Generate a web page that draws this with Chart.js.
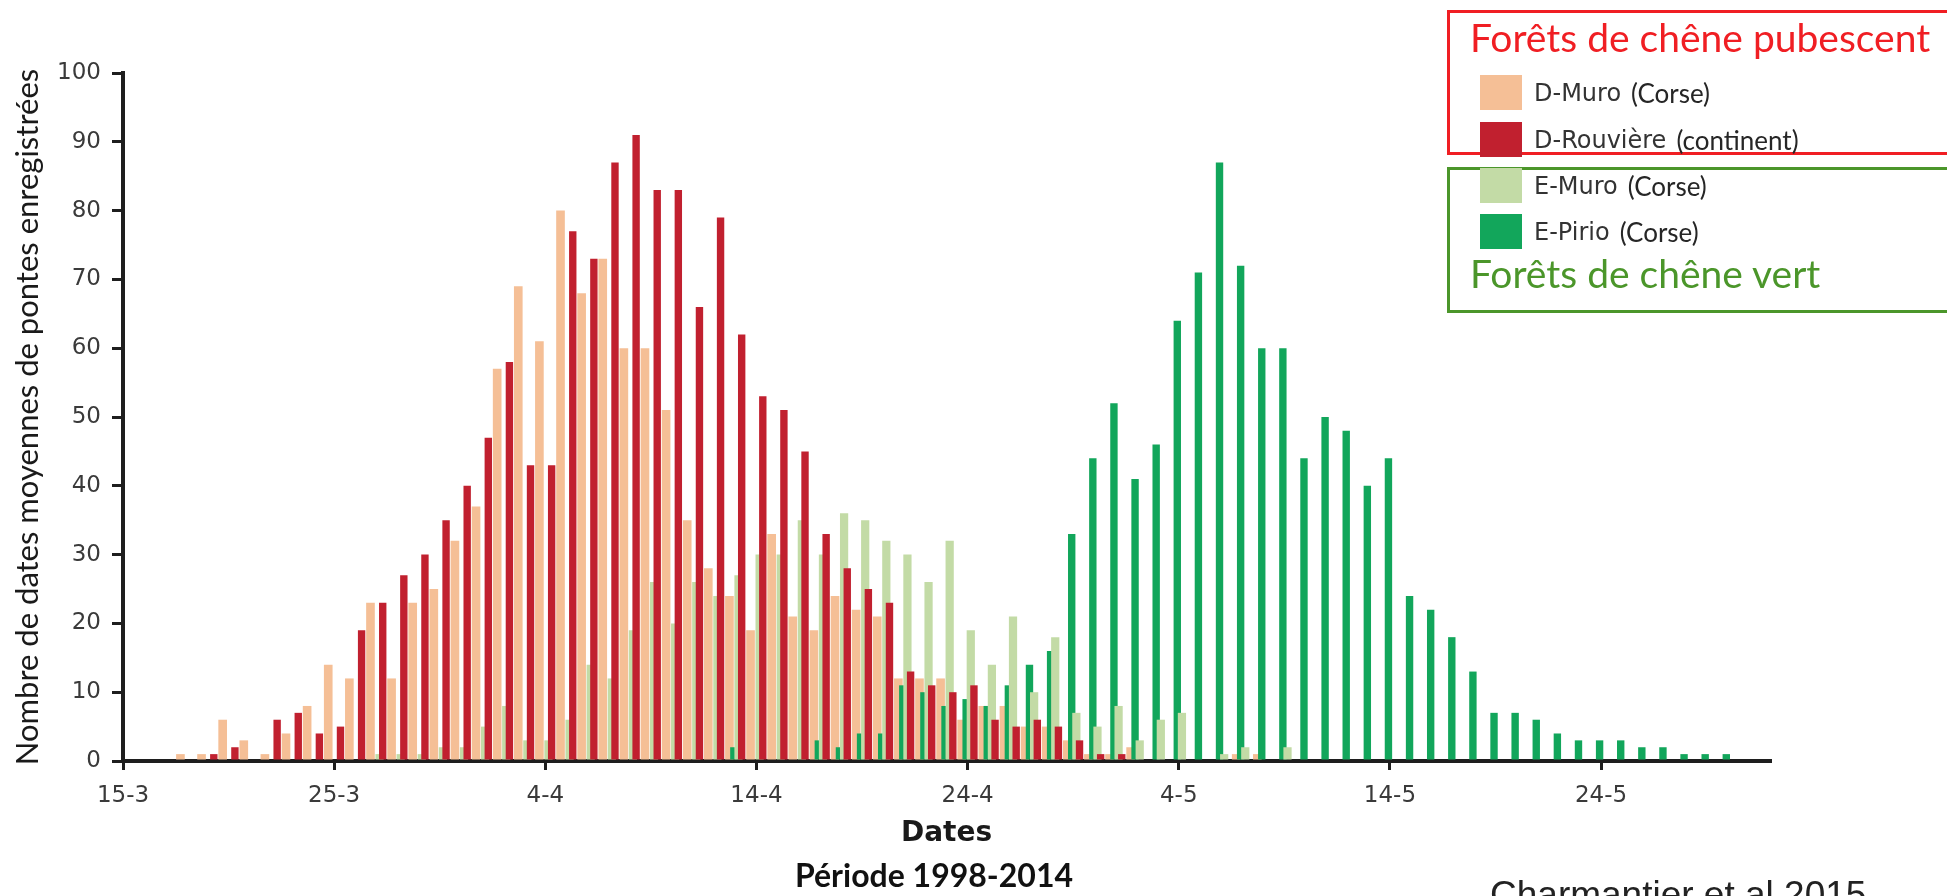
<!DOCTYPE html>
<html lang="fr">
<head>
    <meta charset="UTF-8">
    <title>Dates moyennes de pontes - période 1998-2014</title>
    <script src="https://cdn.jsdelivr.net/npm/chart.js"></script>
    <style>
        body { margin: 0; background: #fff; overflow: hidden; }
        .stage { position: relative; width: 1947px; height: 896px; overflow: hidden; }
        .stage canvas { position: absolute; left: 0; top: 0; }
        .box { position: absolute; left: 1447px; width: 560px; box-sizing: border-box; border: 3px solid; }
        .box.pub { top: 10px; height: 145px; border-color: #f01e23; }
        .box.vert { top: 167px; height: 146px; border-color: #4b962a; }
        .group-title { position: absolute; left: 1470px; font-family: Lato, sans-serif; font-size: 39px; line-height: 1; white-space: nowrap; }
        .item { position: absolute; left: 1480px; height: 35px; display: flex; align-items: center; white-space: nowrap; }
        .swatch { width: 42px; height: 35px; margin-right: 12px; }
        .code { font-family: 'DejaVu Sans', sans-serif; font-size: 24px; color: #333; }
        .place { font-family: Lato, sans-serif; font-size: 26px; color: #262626; margin-left: 10px; }
        .periode { position: absolute; left: 934px; top: 859px; transform: translateX(-50%); font-family: Lato, sans-serif; font-weight: bold; font-size: 32px; line-height: 1; color: #111; white-space: nowrap; }
        .source { position: absolute; left: 1490px; top: 876px; font-family: 'Liberation Sans', Arial, sans-serif; font-size: 37px; line-height: 1; color: #222; white-space: nowrap; }
    </style>
</head>
<body>
<div class="stage">
    <canvas id="ponte" width="1947" height="896"></canvas>

    <!-- legend, drawn as two framed groups like the original figure -->
    <div class="box pub"></div>
    <div class="box vert"></div>
    <div class="group-title" style="top: 18px; color: #f01e23;">Forêts de chêne pubescent</div>
    <div class="group-title" style="top: 254px; color: #4b962a;">Forêts de chêne vert</div>
    <div id="legend"></div>

    <div class="periode">Période 1998-2014</div>
    <div class="source">Charmantier et al 2015</div>
</div>

<script>
    // one bin per day, from 15-3 to 31-5
    const days = [];
    for (let d = 15; d <= 31; d++) days.push(d + '-3');
    for (let d = 1; d <= 30; d++) days.push(d + '-4');
    for (let d = 1; d <= 31; d++) days.push(d + '-5');

    const tickLabels = ['15-3', '25-3', '4-4', '14-4', '24-4', '4-5', '14-5', '24-5'];

    // number of mean laying dates per day
    const dMuro = [
        0, 0, 1, 1, 6, 3, 1, 4, 8, 14,
        12, 23, 12, 23, 25, 32, 37, 57, 69, 61,
        80, 68, 73, 60, 60, 51, 35, 28, 24, 19,
        33, 21, 19, 24, 22, 21, 12, 12, 12, 6,
        8, 8, 5, 5, 3, 1, 1, 2, 0, 0,
        0, 0, 1, 1, 0, 0, 0, 0, 0, 0,
        0, 0, 0, 0, 0, 0, 0, 0, 0, 0,
        0, 0, 0, 0, 0, 0, 0, 0
    ];
    const dRouviere = [
        0, 0, 0, 0, 1, 2, 0, 6, 7, 4,
        5, 19, 23, 27, 30, 35, 40, 47, 58, 43,
        43, 77, 73, 87, 91, 83, 83, 66, 79, 62,
        53, 51, 45, 33, 28, 25, 23, 13, 11, 10,
        11, 6, 5, 6, 5, 3, 1, 1, 0, 0,
        0, 0, 0, 0, 0, 0, 0, 0, 0, 0,
        0, 0, 0, 0, 0, 0, 0, 0, 0, 0,
        0, 0, 0, 0, 0, 0, 0, 0
    ];
    const eMuro = [
        0, 0, 0, 0, 0, 0, 0, 0, 0, 0,
        0, 0, 1, 1, 1, 2, 2, 5, 8, 3,
        3, 6, 14, 12, 19, 26, 20, 26, 24, 27,
        30, 30, 35, 30, 36, 35, 32, 30, 26, 32,
        19, 14, 21, 10, 18, 7, 5, 8, 3, 6,
        7, 0, 1, 2, 0, 2, 0, 0, 0, 0,
        0, 0, 0, 0, 0, 0, 0, 0, 0, 0,
        0, 0, 0, 0, 0, 0, 0, 0
    ];
    const ePirio = [
        0, 0, 0, 0, 0, 0, 0, 0, 0, 0,
        0, 0, 0, 0, 0, 0, 0, 0, 0, 0,
        0, 0, 0, 0, 0, 0, 0, 0, 2, 0,
        0, 0, 3, 2, 4, 4, 11, 10, 8, 9,
        8, 11, 14, 16, 33, 44, 52, 41, 46, 64,
        71, 87, 72, 60, 60, 44, 50, 48, 40, 44,
        24, 22, 18, 13, 7, 7, 6, 4, 3, 3,
        3, 2, 2, 1, 1, 1, 0, 0
    ];

    // the original overlays two figures, so the four bars of a day are not evenly spaced.
    // slot = place in the group (also the drawing order, 0 on top),
    // shift = offset of the bar from the middle of the day, width = bar width, both in days
    const series = [
        { code: 'D-Rouvière', place: '(continent)', data: dRouviere, color: '#c1202f', slot: 0, shift: -0.20, width: 0.35 },
        { code: 'E-Muro', place: '(Corse)', data: eMuro, color: '#c3dba6', slot: 1, shift: -0.35, width: 0.39 },
        { code: 'E-Pirio', place: '(Corse)', data: ePirio, color: '#12a65b', slot: 2, shift: 0.43, width: 0.35 },
        { code: 'D-Muro', place: '(Corse)', data: dMuro, color: '#f5bf96', slot: 3, shift: 0.22, width: 0.41 }
    ];

    function placeBar(slot, shift, width) {
        const cat = shift * 8 / (2 * slot - 3);
        return { categoryPercentage: cat, barPercentage: width * 4 / cat };
    }

    // legend rows in the order of the original figure
    const legendRows = [
        { name: 'D-Muro', top: 75 },
        { name: 'D-Rouvière', top: 122 },
        { name: 'E-Muro', top: 168 },
        { name: 'E-Pirio', top: 214 }
    ];
    const legend = document.getElementById('legend');
    legendRows.forEach(row => {
        const s = series.find(item => item.code === row.name);
        legend.innerHTML += `
            <div class="item" style="top: ${row.top}px">
                <div class="swatch" style="background: ${s.color}"></div>
                <span class="code">${s.code}</span><span class="place">${s.place}</span>
            </div>`;
    });

    const axisColor = '#1e1e1e';

    new Chart(document.getElementById('ponte'), {
        type: 'bar',
        data: {
            labels: days,
            datasets: series.map(s => Object.assign({
                label: s.code + ' ' + s.place,
                data: s.data,
                backgroundColor: s.color,
                borderWidth: 0,
                order: s.slot
            }, placeBar(s.slot, s.shift, s.width)))
        },
        options: {
            responsive: false,
            animation: false,
            devicePixelRatio: 1,
            layout: { padding: { left: 0, right: 177, top: 73, bottom: 0 } },
            plugins: {
                legend: { display: false },
                tooltip: { enabled: false }
            },
            scales: {
                x: {
                    afterFit: scale => { scale.height = 135; },
                    grid: {
                        offset: true,
                        drawOnChartArea: false,
                        tickLength: 9,
                        lineWidth: 3,
                        color: ctx => (tickLabels.includes(days[ctx.index]) ? axisColor : 'rgba(0,0,0,0)')
                    },
                    border: { color: axisColor, width: 4 },
                    ticks: {
                        autoSkip: false,
                        maxRotation: 0,
                        padding: 12,
                        labelOffset: -10.56,
                        color: '#3a3a3a',
                        font: { family: 'DejaVu Sans', size: 23 },
                        callback: (value, index) => (tickLabels.includes(days[index]) ? days[index] : '')
                    },
                    title: {
                        display: true,
                        text: 'Dates',
                        color: '#1a1a1a',
                        font: { family: 'DejaVu Sans', size: 28, weight: 'bold' },
                        padding: { top: 0, bottom: 45 }
                    }
                },
                y: {
                    min: 0,
                    max: 100,
                    afterFit: scale => { scale.width = 123; },
                    grid: {
                        drawOnChartArea: false,
                        tickLength: 11,
                        lineWidth: 3,
                        color: axisColor
                    },
                    border: { color: axisColor, width: 4 },
                    ticks: {
                        stepSize: 10,
                        padding: 11,
                        color: '#3a3a3a',
                        font: { family: 'DejaVu Sans', size: 23 }
                    },
                    title: {
                        display: true,
                        text: 'Nombre de dates moyennes de pontes enregistrées',
                        color: '#1a1a1a',
                        font: { family: 'Lato', size: 31 },
                        padding: { top: 9, bottom: 0 }
                    }
                }
            }
        }
    });
</script>
</body>
</html>
